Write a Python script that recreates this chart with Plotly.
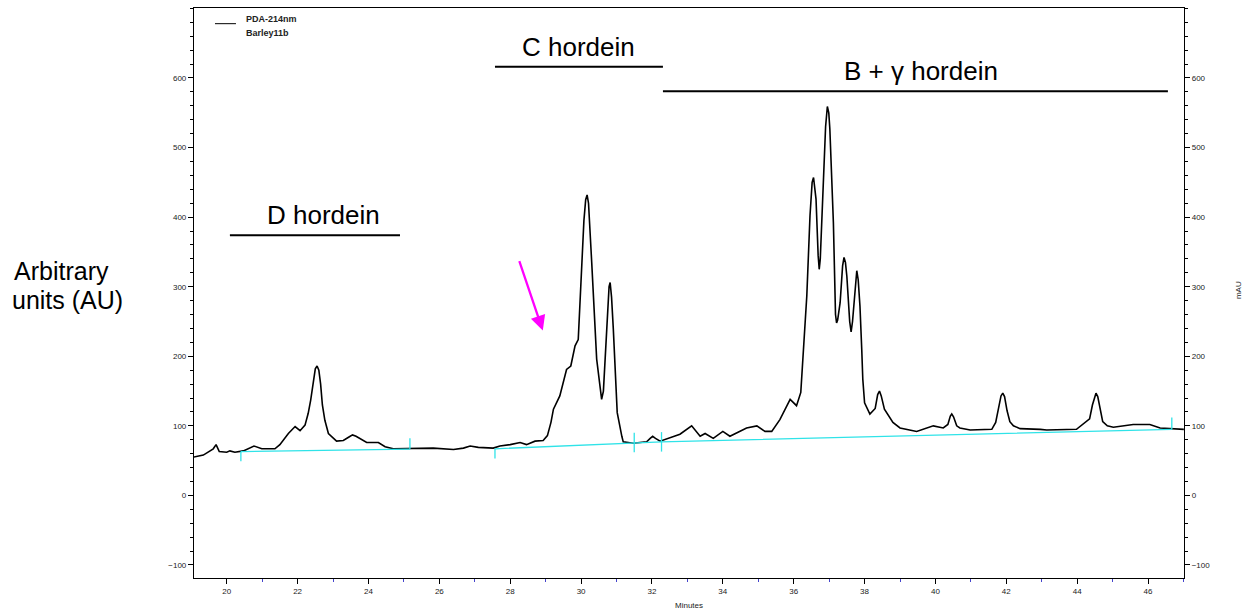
import plotly.graph_objects as go

# Chromatogram trace (retention time in minutes, absorbance in mAU)
time_min = [19.06, 19.34, 19.62, 19.70, 19.79, 20.00, 20.09, 20.23, 20.47, 20.66, 20.77, 20.99,
            21.36, 21.50, 21.74, 21.93, 22.07, 22.21, 22.30, 22.37, 22.44, 22.50, 22.55, 22.60,
            22.65, 22.70, 22.77, 22.87, 23.10, 23.29, 23.45, 23.55, 23.65, 23.76, 23.95, 24.28,
            24.47, 24.70, 25.27, 25.83, 26.40, 26.68, 26.87, 27.10, 27.52, 27.71, 28.00, 28.28,
            28.46, 28.70, 28.93, 29.05, 29.15, 29.22, 29.40, 29.59, 29.71, 29.83, 29.92, 30.02,
            30.08, 30.13, 30.17, 30.21, 30.26, 30.30, 30.44, 30.58, 30.63, 30.70, 30.75, 30.79,
            30.82, 30.86, 30.91, 31.02, 31.15, 31.19, 31.47, 31.85, 31.95, 32.02, 32.10, 32.23,
            32.79, 33.12, 33.36, 33.50, 33.73, 34.00, 34.20, 34.67, 34.96, 35.19, 35.38, 35.61,
            35.90, 36.08, 36.20, 36.27, 36.37, 36.46, 36.52, 36.56, 36.60, 36.63, 36.69, 36.72,
            36.75, 36.83, 36.90, 36.95, 36.99, 37.02, 37.12, 37.18, 37.21, 37.24, 37.31, 37.38,
            37.42, 37.46, 37.50, 37.58, 37.62, 37.66, 37.74, 37.78, 37.82, 37.87, 37.92, 37.95,
            38.00, 38.15, 38.30, 38.37, 38.42, 38.47, 38.56, 38.80, 39.00, 39.47, 39.94, 40.22,
            40.35, 40.42, 40.46, 40.51, 40.60, 40.69, 40.98, 41.59, 41.70, 41.78, 41.85, 41.90,
            41.95, 42.02, 42.10, 42.20, 42.39, 42.96, 43.14, 43.98, 44.35, 44.43, 44.50, 44.53,
            44.58, 44.65, 44.72, 44.85, 45.02, 45.58, 46.05, 46.34, 46.90, 47.01]
absorbance = [55, 58, 67, 73, 63, 62, 64, 62, 64, 68, 71, 67,
              67, 73, 89, 99, 93, 101, 118, 137, 165, 182, 186, 180,
              160, 130, 108, 89, 78, 79, 84, 87, 85, 82, 76, 76,
              70, 67, 67, 68, 66, 68, 71, 69, 68, 71, 73, 76,
              73, 78, 79, 86, 105, 124, 143, 181, 186, 215, 224, 335,
              395, 425, 432, 420, 380, 335, 196, 138, 150, 215, 270, 300,
              306, 285, 239, 119, 85, 77, 75, 77, 82, 85, 82, 78,
              88, 100, 85, 89, 82, 92, 85, 97, 100, 92, 92, 109,
              138, 129, 148, 212, 287, 402, 450, 457, 440, 426, 345, 325,
              340, 440, 530, 559, 550, 527, 392, 260, 248, 252, 277, 330,
              342, 335, 315, 250, 235, 250, 305, 323, 310, 272, 210, 167,
              133, 117, 125, 145, 150, 143, 124, 105, 97, 92, 100, 97,
              102, 114, 117, 113, 100, 97, 94, 95, 105, 125, 143, 147,
              142, 122, 106, 100, 96, 95, 94, 95, 110, 130, 145, 147,
              142, 122, 106, 100, 98, 102, 102, 97, 95, 95]

# Integration baseline segments and peak-window markers (None separates pieces)
baseline_t = [20.40, 25.17, None, 27.57, 31.50, 32.27, 46.67, None,
              20.40, 20.40, None, 25.17, 25.17, None, 27.57, 27.57, None,
              31.50, 31.50, None, 32.27, 32.27, None, 46.67, 46.67]
baseline_v = [63, 66.5, None, 67, 75, 77, 95, None,
              63, 49, None, 66.5, 82, None, 67, 53, None,
              62, 90, None, 63, 91, None, 95, 112]

x_ticks = list(range(20, 48, 2))
y_ticks = list(range(-100, 700, 100))

x_range = [19.077, 47.014]
y_range = [-118.7, 700.6]

FONT = "Liberation Sans, Arial, sans-serif"

fig = go.Figure()
fig.add_trace(go.Scatter(x=baseline_t, y=baseline_v, mode="lines", yaxis="y2",
                         line=dict(color="#2fe3e8", width=1.3), hoverinfo="skip",
                         showlegend=False))
fig.add_trace(go.Scatter(x=time_min, y=absorbance, mode="lines",
                         line=dict(color="black", width=1.6), showlegend=False))

axis_common = dict(showline=True, linecolor="black", linewidth=1.2, ticks="outside",
                   ticklen=5, tickcolor="black", showgrid=False, zeroline=False,
                   tickfont=dict(family=FONT, size=8, color="#222"))

fig.update_layout(
    width=1246, height=616,
    margin=dict(l=194, r=62, t=8, b=38),
    plot_bgcolor="white", paper_bgcolor="white",
    xaxis=dict(range=x_range, tickvals=x_ticks, mirror=True,
               minor=dict(dtick=1, tick0=0, ticks="outside", ticklen=3, tickcolor="#4444cc"),
               **axis_common),
    yaxis=dict(range=y_range, tickvals=y_ticks,
               minor=dict(dtick=20, tick0=0, ticks="outside", ticklen=3, tickcolor="black"),
               **axis_common),
    yaxis2=dict(range=y_range, tickvals=y_ticks, overlaying="y", side="right",
                minor=dict(dtick=20, tick0=0, ticks="outside", ticklen=3, tickcolor="black"),
                **axis_common),
)

# Region labels with underline bars: (text, line start, line end, line level, text x, text y)
labels = [("D hordein", 20.09, 24.89, 374, 22.72, 403),
          ("C hordein", 27.57, 32.31, 616, 29.94, 645),
          ("B + γ hordein", 32.31, 46.56, 581, 39.58, 610)]
for text, x0, x1, yline, xtext, ytext in labels:
    fig.add_shape(type="line", xref="x", yref="y", x0=x0, x1=x1, y0=yline, y1=yline,
                  line=dict(color="black", width=2))
    fig.add_annotation(x=xtext, y=ytext, xref="x", yref="y", text=text,
                       showarrow=False, yanchor="middle",
                       font=dict(family=FONT, size=26, color="black"))

# Magenta arrow
fig.add_annotation(x=28.92, y=237, xref="x", yref="y", text="", showarrow=True,
                   ax=-24, ay=-71, arrowhead=2, arrowsize=1.3, arrowwidth=2.3,
                   arrowcolor="#ff00ff", standoff=0)

# Legend (chromatogram key)
fig.add_shape(type="line", xref="paper", yref="paper", x0=0.0212, x1=0.0424,
              y0=0.9725, y1=0.9725, line=dict(color="black", width=1))
fig.add_annotation(x=0.0505, y=0.9807, xref="paper", yref="paper", text="<b>PDA-214nm</b>",
                   showarrow=False, xanchor="left", yanchor="middle",
                   font=dict(family=FONT, size=9, color="#222"))
fig.add_annotation(x=0.0505, y=0.957, xref="paper", yref="paper", text="<b>Barley11b</b>",
                   showarrow=False, xanchor="left", yanchor="middle",
                   font=dict(family=FONT, size=9, color="#222"))

# Axis titles
fig.add_annotation(x=-0.1838, y=0.5386, xref="paper", yref="paper", text="Arbitrary",
                   showarrow=False, xanchor="left", yanchor="middle",
                   font=dict(family=FONT, size=25, color="black"))
fig.add_annotation(x=-0.1855, y=0.4877, xref="paper", yref="paper", text="units (AU)",
                   showarrow=False, xanchor="left", yanchor="middle",
                   font=dict(family=FONT, size=25, color="black"))
fig.add_annotation(x=1.0545, y=0.505, xref="paper", yref="paper", text="mAU",
                   showarrow=False, textangle=-90, xanchor="center", yanchor="middle",
                   font=dict(family=FONT, size=8, color="#222"))
fig.add_annotation(x=0.5, y=-0.0474, xref="paper", yref="paper", text="Minutes",
                   showarrow=False, xanchor="center", yanchor="middle",
                   font=dict(family=FONT, size=8, color="#222"))

fig.write_html("out.html")
